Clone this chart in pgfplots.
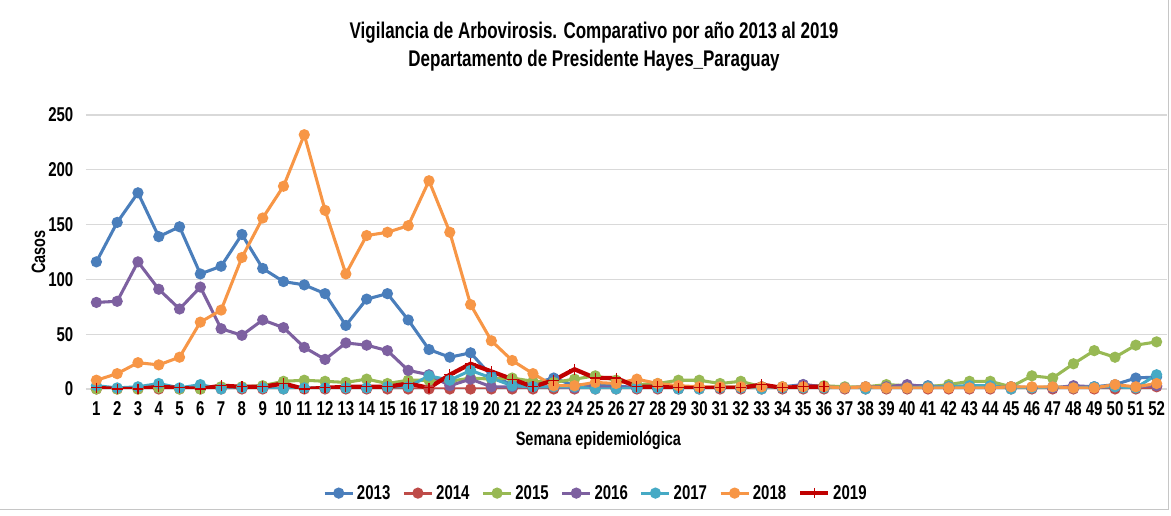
\documentclass[border=0pt]{standalone}
\usepackage{fontspec}
\setmainfont{Liberation Sans}[FakeStretch=0.75]
\usepackage{pgfplots}
\pgfplotsset{compat=1.18}
\usepackage{pgfplotstable}
\definecolor{c13}{HTML}{4A7EBB}
\definecolor{c14}{HTML}{BE4B48}
\definecolor{c15}{HTML}{98B954}
\definecolor{c16}{HTML}{7D60A0}
\definecolor{c17}{HTML}{46AAC5}
\definecolor{c18}{HTML}{F79646}
\definecolor{c19}{HTML}{C00000}
\pgfplotstableread{
w a13 a14 a15 a16 a17 a18
1 116 0 0 79 3 8
2 152 0 0 80 1 14
3 179 0 0 116 2 24
4 139 0 1 91 5 22
5 148 0 0 73 1 29
6 105 0 0 93 4 61
7 112 0 2 55 0 72
8 141 0 2 49 1 120
9 110 0 3 63 1 156
10 98 0 7 56 0 185
11 95 0 8 38 1 232
12 87 0 7 27 1 163
13 58 0 6 42 1 105
14 82 0 9 40 1 140
15 87 0 5 35 2 143
16 63 0 8 17 2 149
17 36 0 8 13 12 190
18 29 0 7 3 8 143
19 33 0 10 9 17 77
20 12 0 9 2 10 44
21 4 0 10 2 3 26
22 5 0 7 2 2 14
23 10 0 6 2 2 3
24 3 0 9 1 2 3
25 4 0 12 2 0 6
26 3 0 8 1 0 5
27 1 0 4 1 1 9
28 2 0 5 1 1 5
29 1 0 8 1 0 3
30 1 0 8 1 0 2
31 2 0 5 1 1 2
32 2 0 7 1 1 2
33 2 0 2 2 0 2
34 2 0 2 1 1 2
35 4 0 2 4 1 2
36 2 0 3 2 1 2
37 1 0 2 1 1 1
38 1 0 2 2 0 2
39 2 0 4 2 1 1
40 3 0 3 4 1 1
41 3 0 2 2 2 1
42 2 0 4 2 2 1
43 3 0 7 1 3 1
44 3 0 7 1 3 1
45 2 0 2 2 0 2
46 1 0 12 1 1 2
47 1 0 10 1 2 2
48 2 0 23 3 1 1
49 2 0 35 2 2 1
50 4 0 29 2 2 4
51 10 0 40 2 1 2
52 11 2 43 3 13 5
}\datamain
\pgfplotstableread{
w a19
1 1
2 0
3 0
4 2
5 1
6 0
7 3
8 2
9 2
10 5
11 0
12 1
13 2
14 2
15 2
16 5
17 1
18 13
19 23
20 16
21 9
22 2
23 8
24 18
25 10
26 10
27 2
28 2
29 1
30 1
31 1
32 1
33 4
34 1
35 2
36 2
}\datanineteen
\begin{document}
\begin{tikzpicture}[x=1pt,y=1pt]
\path[use as bounding box] (0,0) rectangle (878.25,387);
\draw[gray!45,line width=0.75pt] (876.5,387) -- (876.5,4.5) -- (0,4.5);
\begin{axis}[
  at={(64.5pt,95.25pt)}, anchor=south west,
  scale only axis, width=810.75pt, height=205.5pt,
  xmin=0.5, xmax=52.5, ymin=0, ymax=250,
  xtick={1,...,52}, ytick={0,50,...,250},
  ymajorgrids, grid style={draw=black!15, line width=0.9pt},
  axis line style={draw=none},
  major tick length=0pt,
  tick label style={font=\fontsize{15}{16}\selectfont\bfseries},
  /pgf/number format/assume math mode=true,
  xticklabel style={yshift=-6pt},
  yticklabel style={xshift=-6pt},
  title={Vigilancia de Arbovirosis. Comparativo por año 2013 al 2019\\Departamento de Presidente Hayes\_Paraguay},
  title style={at={(axis description cs:0.47,1.22)}, anchor=center, align=center, font=\fontsize{17}{21}\selectfont\bfseries},
  xlabel={Semana epidemiológica},
  xlabel style={at={(axis description cs:0.474,-0.186)}, anchor=center, font=\fontsize{14.5}{16}\selectfont\bfseries},
  ylabel={Casos},
  ylabel style={at={(axis description cs:-0.044,0.5)}, anchor=center, font=\fontsize{14.5}{16}\selectfont\bfseries},
  legend style={at={(axis description cs:0.472,-0.38)}, anchor=center, draw=none, fill=none,
    legend columns=7, font=\fontsize{15}{16}\selectfont\bfseries,
    /tikz/every even column/.append style={column sep=7pt}},
  legend image code/.code={\draw[mark repeat=2,mark phase=2] plot coordinates {(0cm,0cm)(0.37cm,0cm)(0.74cm,0cm)};},
  every axis plot/.append style={line width=2.3pt, mark=*, mark size=3pt, mark options={solid}},
]
\addplot[c13, mark options={fill=c13}] table[x=w,y=a13] {\datamain};
\addplot[c14, mark options={fill=c14}] table[x=w,y=a14] {\datamain};
\addplot[c15, mark options={fill=c15}] table[x=w,y=a15] {\datamain};
\addplot[c16, mark options={fill=c16}] table[x=w,y=a16] {\datamain};
\addplot[c17, mark options={fill=c17}] table[x=w,y=a17] {\datamain};
\addplot[c18, mark options={fill=c18}] table[x=w,y=a18] {\datamain};
\addplot[c19, line width=3.2pt, mark=+, mark size=4pt, mark options={line width=0.9pt}] table[x=w,y=a19] {\datanineteen};
\legend{2013,2014,2015,2016,2017,2018,2019}
\end{axis}
\end{tikzpicture}
\end{document}
